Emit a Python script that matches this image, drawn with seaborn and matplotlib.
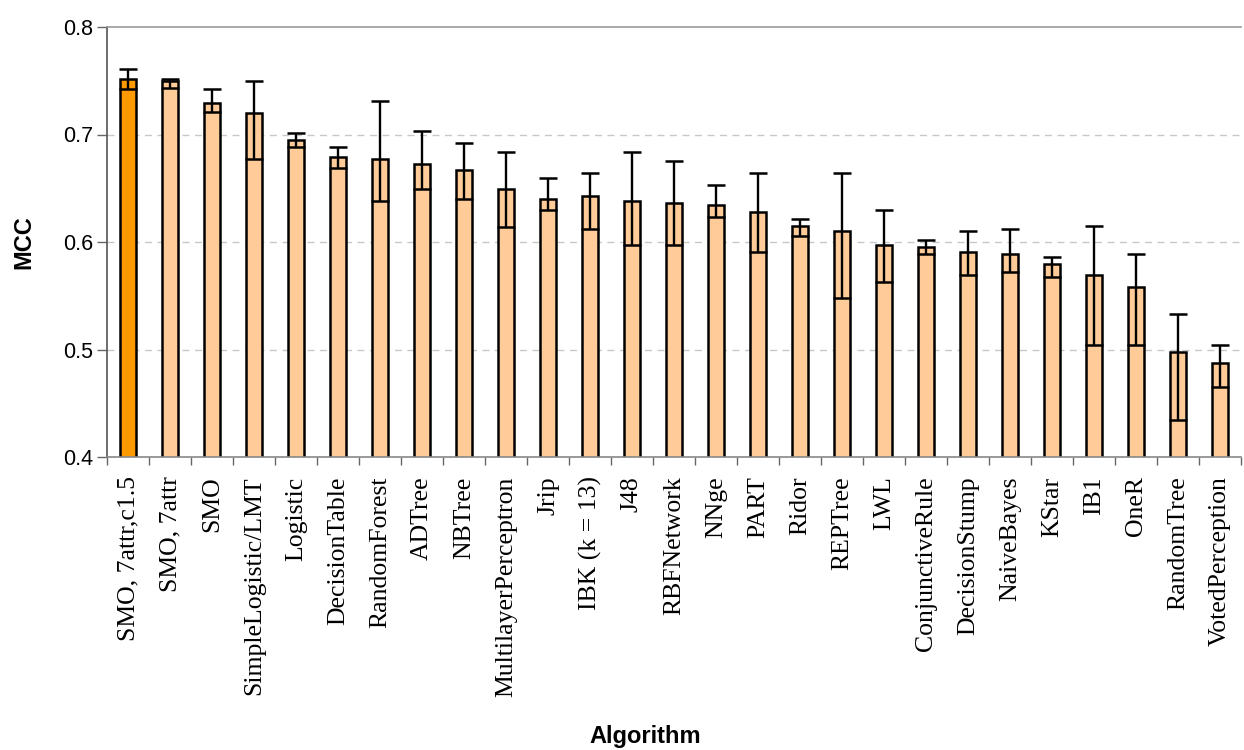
import matplotlib
matplotlib.use("Agg")
import matplotlib.pyplot as plt
import seaborn as sns
import numpy as np
import pandas as pd

# MCC per algorithm
algorithms = ["SMO, 7attr,c1.5", "SMO, 7attr", "SMO", "SimpleLogistic/LMT", "Logistic",
              "DecisionTable", "RandomForest", "ADTree", "NBTree", "MultilayerPerceptron",
              "Jrip", "IBK (k = 13)", "J48", "RBFNetwork", "NNge", "PART", "Ridor",
              "REPTree", "LWL", "ConjunctiveRule", "DecisionStump", "NaiveBayes", "KStar",
              "IB1", "OneR", "RandomTree", "VotedPerception"]
mcc = [0.752, 0.750, 0.729, 0.720, 0.695, 0.679, 0.677, 0.673, 0.667, 0.649,
       0.640, 0.643, 0.638, 0.636, 0.634, 0.628, 0.615, 0.610, 0.597, 0.595,
       0.591, 0.589, 0.580, 0.569, 0.558, 0.498, 0.487]
err_low = [0.742, 0.743, 0.721, 0.677, 0.688, 0.669, 0.638, 0.649, 0.640, 0.614,
           0.630, 0.612, 0.597, 0.597, 0.623, 0.591, 0.606, 0.548, 0.563, 0.589,
           0.569, 0.572, 0.567, 0.504, 0.504, 0.434, 0.465]
err_high = [0.761, 0.752, 0.742, 0.750, 0.701, 0.688, 0.731, 0.703, 0.692, 0.684,
            0.660, 0.664, 0.684, 0.675, 0.653, 0.664, 0.621, 0.664, 0.630, 0.602,
            0.610, 0.612, 0.586, 0.615, 0.589, 0.533, 0.504]

df = pd.DataFrame({"Algorithm": algorithms, "MCC": mcc})
colors = ["#FF9900"] + ["#FFCC99"] * (len(algorithms) - 1)

sns.set_style("white")
plt.rcParams["text.color"] = "black"
plt.rcParams["xtick.color"] = "black"
plt.rcParams["ytick.color"] = "black"
plt.rcParams["axes.labelcolor"] = "black"

fig = plt.figure(figsize=(12.44, 7.5), dpi=100)
ax = fig.add_axes([107 / 1244, 293 / 750, 1134 / 1244, 430 / 750])

sns.barplot(data=df, x="Algorithm", y="MCC", hue="Algorithm", palette=colors,
            saturation=1, legend=False, width=0.4, edgecolor="black",
            linewidth=1.8, ax=ax, zorder=2)

x = np.arange(len(algorithms))
m = np.array(mcc)
yerr = [m - np.array(err_low), np.array(err_high) - m]
ax.errorbar(x, m, yerr=yerr, fmt="none", ecolor="black", elinewidth=1.7,
            capsize=6.2, capthick=1.8, zorder=3)

ax.set_ylim(0.4, 0.8)
ax.set_xlim(-0.5, len(algorithms) - 0.5)
ax.set_yticks([0.4, 0.5, 0.6, 0.7, 0.8])
ax.set_yticklabels(["0.4", "0.5", "0.6", "0.7", "0.8"], fontsize=15.5,
                   family="Liberation Sans")
for yv in [0.5, 0.6, 0.7]:
    ax.axhline(yv, color="#C8C8C8", linestyle=(0, (5, 4)), linewidth=1, zorder=0)

ax.set_xticks(x)
ax.set_xticklabels(algorithms, rotation=90, fontsize=18.5, family="Liberation Serif")
ax.set_xticks(np.arange(len(algorithms) + 1) - 0.5, minor=True)
ax.tick_params(axis="x", which="major", length=0, pad=14)
ax.tick_params(axis="x", which="minor", length=6, width=1, color="#666666", bottom=True)
ax.tick_params(axis="y", which="major", length=7, width=1, color="#666666",
               left=True, pad=3)

for side in ["top", "left", "bottom"]:
    ax.spines[side].set_linewidth(1.2)
ax.spines["top"].set_color("#999999")
ax.spines["left"].set_color("#555555")
ax.spines["bottom"].set_color("#888888")
ax.spines["right"].set_visible(False)

ax.set_xlabel("")
ax.set_ylabel("MCC", fontsize=17, fontweight="bold", family="Liberation Sans",
              labelpad=20)
fig.text(645 / 1244, 1 - 737 / 750, "Algorithm", fontsize=17, fontweight="bold",
         family="Liberation Sans", ha="center", va="center")

plt.savefig("out.png", dpi=100)
